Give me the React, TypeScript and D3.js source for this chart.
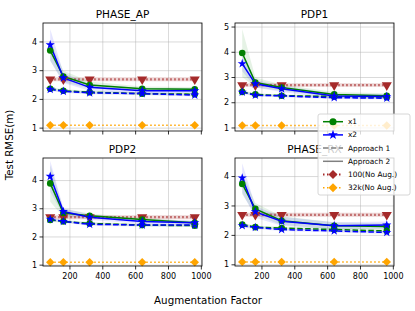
import * as d3 from "d3";

const factors = [80, 160, 320, 640, 960];
const panelTitles = ["PHASE_AP", "PDP1", "PDP2", "PHASE_RX"];

// per panel: Approach 2 (solid) and Approach 1 (dashed) for x1 / x2
const x1App2 = [
  [3.7, 2.8, 2.5, 2.37, 2.35],
  [3.97, 2.8, 2.6, 2.33, 2.28],
  [3.9, 2.85, 2.75, 2.62, 2.5],
  [3.75, 2.9, 2.5, 2.33, 2.3],
];
const x2App2 = [
  [3.9, 2.75, 2.42, 2.3, 2.3],
  [3.55, 2.75, 2.55, 2.27, 2.25],
  [4.15, 2.9, 2.7, 2.55, 2.5],
  [3.95, 2.8, 2.48, 2.33, 2.35],
];
const x1App1 = [
  [2.37, 2.3, 2.25, 2.2, 2.18],
  [2.43, 2.33, 2.28, 2.25, 2.22],
  [2.6, 2.55, 2.48, 2.42, 2.4],
  [2.37, 2.28, 2.25, 2.2, 2.15],
];
const x2App1 = [
  [2.35, 2.28, 2.23, 2.2, 2.15],
  [2.42, 2.3, 2.27, 2.2, 2.18],
  [2.63, 2.55, 2.45, 2.42, 2.42],
  [2.33, 2.27, 2.2, 2.15, 2.1],
];
// shaded spread (half width) around each curve
const x1App2Spread = [
  [0.35, 0.2, 0.12, 0.08, 0.08],
  [0.95, 0.2, 0.12, 0.1, 0.1],
  [0.65, 0.15, 0.08, 0.06, 0.06],
  [0.35, 0.2, 0.15, 0.12, 0.1],
];
const x2App2Spread = [
  [0.55, 0.18, 0.12, 0.1, 0.1],
  [0.3, 0.15, 0.12, 0.1, 0.1],
  [0.55, 0.12, 0.1, 0.08, 0.08],
  [0.5, 0.2, 0.15, 0.12, 0.12],
];
const app1Spread = [0.06, 0.05, 0.05, 0.05, 0.05];
const noAug100 = 2.7;
const noAug100Spread = 0.07;
const noAug32k = 1.1;

const yDomains: [number, number][] = [
  [0.9, 4.66],
  [0.88, 5.16],
  [0.97, 4.8],
  [0.96, 4.63],
];
const yTicks = [
  [1, 2, 3, 4],
  [1, 2, 3, 4, 5],
  [1, 2, 3, 4],
  [1, 2, 3, 4],
];
const xTicks = [200, 400, 600, 800, 1000];

const legendItems = ["x1", "x2", "Approach 1", "Approach 2", "100(No Aug.)", "32k(No Aug.)"];

const FONT = "DejaVu Sans, sans-serif";
const lefts = [43, 235];
const tops = [23, 158];
const W = 159;
const H = 108;

function marker(kind: string, size: number) {
  if (kind === "circle") return d3.symbol(d3.symbolCircle, size)();
  if (kind === "star") return d3.symbol(d3.symbolStar, size)();
  if (kind === "tri") return d3.symbol(d3.symbolTriangle, size)();
  return d3.symbol(d3.symbolSquare, size)();
}
function markerRot(kind: string) {
  if (kind === "tri") return " rotate(180)";
  if (kind === "diamond") return " rotate(45)";
  return "";
}

function Panel({ idx }: { idx: number }) {
  const col = idx % 2;
  const row = Math.floor(idx / 2);
  const x0 = lefts[col];
  const y0 = tops[row];
  const x = d3.scaleLinear().domain([36, 1004]).range([0, W]);
  const y = d3.scaleLinear().domain(yDomains[idx]).range([H, 0]);
  const line = d3
    .line<number>()
    .x((_, i) => x(factors[i]))
    .y((d) => y(d));
  const band = (vals: number[], spread: number[]) =>
    d3
      .area<number>()
      .x((_, i) => x(factors[i]))
      .y0((d, i) => y(d - spread[i]))
      .y1((d, i) => y(d + spread[i]))(vals) || "";

  const flat100 = factors.map(() => noAug100);
  const flat32 = factors.map(() => noAug32k);
  const spread100 = factors.map(() => noAug100Spread);

  const series = [
    { vals: flat32, color: "orange", dash: "1.5,2.5", kind: "diamond", size: 36, w: 1.5 },
    { vals: flat100, color: "brown", dash: "1.5,2.5", kind: "tri", size: 44, w: 2.2 },
    { vals: x1App1[idx], color: "green", dash: "5.5,2.4", kind: "circle", size: 34, w: 1.5 },
    { vals: x2App1[idx], color: "blue", dash: "5.5,2.4", kind: "star", size: 26, w: 1.5 },
    { vals: x1App2[idx], color: "green", dash: "", kind: "circle", size: 34, w: 1.5 },
    { vals: x2App2[idx], color: "blue", dash: "", kind: "star", size: 26, w: 1.5 },
  ];

  return (
    <g transform={`translate(${x0},${y0})`}>
      <defs>
        <clipPath id={`clip${idx}`}>
          <rect width={W} height={H} />
        </clipPath>
      </defs>
      {xTicks.map((t) => (
        <line key={`gx${t}`} x1={x(t)} x2={x(t)} y1={0} y2={H} stroke="#b0b0b0" strokeOpacity={0.6} strokeWidth={0.8} />
      ))}
      {yTicks[idx].map((t) => (
        <line key={`gy${t}`} x1={0} x2={W} y1={y(t)} y2={y(t)} stroke="#b0b0b0" strokeOpacity={0.6} strokeWidth={0.8} />
      ))}
      <g clipPath={`url(#clip${idx})`}>
        <path d={band(flat100, spread100)} fill="brown" fillOpacity={0.2} />
        <path d={band(x1App1[idx], app1Spread)} fill="green" fillOpacity={0.1} />
        <path d={band(x2App1[idx], app1Spread)} fill="blue" fillOpacity={0.1} />
        <path d={band(x1App2[idx], x1App2Spread[idx])} fill="green" fillOpacity={0.1} />
        <path d={band(x2App2[idx], x2App2Spread[idx])} fill="blue" fillOpacity={0.1} />
        {series.map((s, si) => (
          <path
            key={`l${si}`}
            d={line(s.vals) || ""}
            fill="none"
            stroke={s.color}
            strokeWidth={s.w}
            strokeDasharray={s.dash || undefined}
            opacity={s.kind === "tri" ? 0.75 : 1}
          />
        ))}
      </g>
      {series.map((s, si) =>
        s.vals.map((v, i) => (
          <path
            key={`m${si}-${i}`}
            d={marker(s.kind, s.size) || ""}
            transform={`translate(${x(factors[i])},${y(v)})${markerRot(s.kind)}`}
            fill={s.color}
          />
        ))
      )}
      <rect width={W} height={H} fill="none" stroke="#000" strokeWidth={0.8} />
      {xTicks.map((t) => (
        <g key={`tx${t}`} transform={`translate(${x(t)},${H})`}>
          <line y2={3.5} stroke="#000" strokeWidth={0.8} />
          {row === 1 && (
            <text y={13} textAnchor="middle" fontSize={8} fontFamily={FONT}>
              {t}
            </text>
          )}
        </g>
      ))}
      {yTicks[idx].map((t) => (
        <g key={`ty${t}`} transform={`translate(0,${y(t)})`}>
          <line x2={-3.5} stroke="#000" strokeWidth={0.8} />
          <text x={-6} dy="0.33em" textAnchor="end" fontSize={8} fontFamily={FONT}>
            {t}
          </text>
        </g>
      ))}
      <text x={W / 2} y={-5} textAnchor="middle" fontSize={10.5} fontFamily={FONT}>
        {panelTitles[idx]}
      </text>
    </g>
  );
}

function Legend() {
  const lx = 318;
  const ly = 114;
  const styles = [
    { color: "green", dash: "", kind: "circle", w: 1.5 },
    { color: "blue", dash: "", kind: "star", w: 1.5 },
    { color: "gray", dash: "5.5,2.4", kind: "", w: 1.5 },
    { color: "gray", dash: "", kind: "", w: 1.5 },
    { color: "brown", dash: "1.5,2.5", kind: "diamond", w: 2 },
    { color: "orange", dash: "1.5,2.5", kind: "diamond", w: 1.5 },
  ];
  return (
    <g transform={`translate(${lx},${ly})`}>
      <rect width={92} height={81} rx={2} fill="#fff" fillOpacity={0.8} stroke="#ccc" strokeWidth={0.8} />
      {legendItems.map((name, i) => {
        const yy = 7.7 + i * 13.2;
        const s = styles[i];
        return (
          <g key={name} transform={`translate(0,${yy})`}>
            <line x1={5} x2={25} stroke={s.color} strokeWidth={s.w} strokeDasharray={s.dash || undefined} />
            {s.kind && (
              <path
                d={marker(s.kind, s.kind === "star" ? 30 : 40) || ""}
                transform={`translate(15,0)${markerRot(s.kind)}`}
                fill={s.color}
              />
            )}
            <text x={30} dy="0.35em" fontSize={7.4} fontFamily={FONT}>
              {name}
            </text>
          </g>
        );
      })}
    </g>
  );
}

export default function App() {
  return (
    <svg width={415} height={311} style={{ position: "absolute", left: 0, top: 0, background: "#fff" }}>
      {panelTitles.map((_, i) => (
        <Panel key={i} idx={i} />
      ))}
      <Legend />
      <text
        transform="translate(13,145) rotate(-90)"
        textAnchor="middle"
        fontSize={10.3}
        fontFamily={FONT}
      >
        Test RMSE(m)
      </text>
      <text x={208} y={304} textAnchor="middle" fontSize={10.3} fontFamily={FONT}>
        Augmentation Factor
      </text>
    </svg>
  );
}
